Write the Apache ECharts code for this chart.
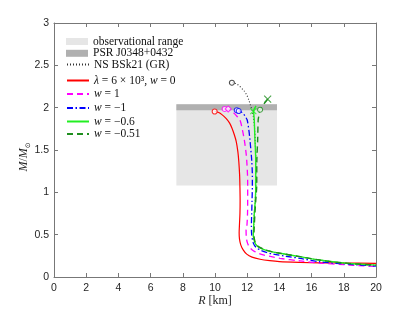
<!DOCTYPE html>
<html><head><meta charset="utf-8">
<script src="https://cdn.jsdelivr.net/npm/echarts@6/dist/echarts.min.js"></script>
<style>html,body{margin:0;padding:0;background:#fff}#c{width:415px;height:312px}</style>
</head><body><div id="c"></div>
<script>
// ---- axis ticks ----
const xTicks = [0, 2, 4, 6, 8, 10, 12, 14, 16, 18, 20];
const yTicks = [0, 0.5, 1, 1.5, 2, 2.5, 3];

// ---- shaded constraints ----
const obsRangeR = [7.6, 13.85];
const obsRangeM = [1.08, 2.04];
const psrR = [7.6, 13.85];
const psrM = [1.97, 2.04];

// ---- NS BSk21 (GR) ----
const nsR = [11.05, 11.3, 11.55, 11.8, 11.97, 12.1, 12.2, 12.3, 12.38, 12.44, 12.5, 12.53, 12.53, 12.5, 12.44, 12.4, 12.38, 12.45, 12.6, 13.0, 13.5, 14.04, 15.28, 16.5, 18, 20];
const nsM = [2.295, 2.285, 2.25, 2.2, 2.15, 2.09, 2.03, 1.97, 1.9, 1.8, 1.6, 1.38, 1.07, 0.9, 0.75, 0.6, 0.5, 0.42, 0.37, 0.327, 0.3, 0.28, 0.24, 0.2, 0.165, 0.14];
const nsMarkR = [11.05];
const nsMarkM = [2.295];

// ---- lambda = 6e3, w = 0 ----
const redR = [9.98, 10.2, 10.45, 10.7, 10.9, 11.05, 11.2, 11.32, 11.42, 11.48, 11.53, 11.55, 11.56, 11.55, 11.52, 11.5, 11.52, 11.6, 11.75, 11.97, 12.3, 12.8, 13.4, 14.0, 15.3, 16.5, 18, 20];
const redM = [1.955, 1.945, 1.915, 1.87, 1.82, 1.76, 1.68, 1.6, 1.48, 1.36, 1.2, 1.05, 0.9, 0.75, 0.62, 0.52, 0.45, 0.38, 0.32, 0.27, 0.235, 0.21, 0.193, 0.182, 0.173, 0.168, 0.165, 0.162];
const redMarkR = [9.98];
const redMarkM = [1.955];

// ---- w = 1 ----
const magR = [10.6, 10.9, 11.15, 11.4, 11.55, 11.7, 11.82, 11.92, 11.97, 12.02, 12.03, 12.03, 12.02, 11.98, 11.93, 11.95, 12.02, 12.15, 12.38, 12.7, 13.0, 13.5, 14.04, 15.28, 16.5, 18, 20];
const magM = [1.985, 1.975, 1.94, 1.89, 1.854, 1.74, 1.62, 1.48, 1.38, 1.2, 1.07, 0.9, 0.75, 0.6, 0.55, 0.46, 0.4, 0.35, 0.31, 0.28, 0.26, 0.24, 0.22, 0.19, 0.165, 0.145, 0.125];
const magCircR = [10.6];
const magCircM = [1.985];
const magDiaR = [10.82];
const magDiaM = [1.985];

// ---- w = -1 ----
const bluR = [11.35, 11.55, 11.75, 11.9, 12.0, 12.1, 12.17, 12.25, 12.28, 12.32, 12.32, 12.3, 12.28, 12.26, 12.28, 12.38, 12.55, 12.8, 13.2, 13.62, 14.4, 15.28, 16.5, 18, 20];
const bluM = [1.97, 1.96, 1.93, 1.89, 1.854, 1.74, 1.62, 1.45, 1.38, 1.2, 1.07, 0.9, 0.75, 0.6, 0.5, 0.4, 0.35, 0.32, 0.29, 0.27, 0.245, 0.22, 0.18, 0.155, 0.13];
const bluMarkR = [11.35, 11.47];
const bluMarkM = [1.97, 1.96];

// ---- w = -0.6 ----
const grnR = [12.55, 12.4, 12.42, 12.44, 12.48, 12.53, 12.53, 12.5, 12.44, 12.4, 12.38, 12.45, 12.6, 13.0, 13.5, 14.04, 15.28, 16.5, 18, 20];
const grnM = [2.02, 1.96, 1.9, 1.854, 1.62, 1.38, 1.07, 0.9, 0.75, 0.6, 0.5, 0.42, 0.37, 0.327, 0.3, 0.28, 0.24, 0.2, 0.165, 0.14];
const grnMarkR = [12.38];
const grnMarkM = [1.96];

// ---- w = -0.51 ----
const dgrR = [13.27, 12.8, 12.72, 12.68, 12.65, 12.6, 12.59, 12.53, 12.48, 12.44, 12.42, 12.48, 12.62, 13.0, 13.5, 14.04, 15.28, 16.5, 18, 20];
const dgrM = [2.10, 1.976, 1.9, 1.854, 1.62, 1.38, 1.07, 0.9, 0.75, 0.6, 0.5, 0.42, 0.37, 0.33, 0.3, 0.28, 0.24, 0.2, 0.165, 0.14];
const dgrCircR = [12.8];
const dgrCircM = [1.976];
const dgrCrossR = [13.27];
const dgrCrossM = [2.10];

const names = ['observational range', 'PSR J0348+0432', 'NS BSk21 (GR)', 'λ = 6 × 10³, w = 0', 'w = 1', 'w = −1', 'w = −0.6', 'w = −0.51'];
const richNames = {
  'observational range': 'observational range',
  'PSR J0348+0432': 'PSR J0348+0432',
  'NS BSk21 (GR)': 'NS BSk21 (GR)',
  'λ = 6 × 10³, w = 0': '{i|λ} = 6 × 10³, {i|w} = 0',
  'w = 1': '{i|w} = 1',
  'w = −1': '{i|w} = −1',
  'w = −0.6': '{i|w} = −0.6',
  'w = −0.51': '{i|w} = −0.51'
};
const rowCenters = [41.5, 53.3, 64.5, 80.5, 94, 108, 121.5, 134];

const zip = (a, b) => a.map((v, i) => [v, b[i]]);
const serif = 'Liberation Serif';
const crossPath = 'path://M0,0L10,10M10,0L0,10';

const chart = echarts.init(document.getElementById('c'), null, {renderer: 'canvas'});

const axisLineStyle = {color: '#777', width: 1};
const mkAxis = (pos, show, ticks, extra) => Object.assign({
  type: 'value', position: pos,
  min: ticks[0], max: ticks[ticks.length - 1], interval: ticks[1] - ticks[0],
  axisLine: {show: true, onZero: false, lineStyle: axisLineStyle},
  axisTick: {show: true, inside: true, length: 4, lineStyle: axisLineStyle},
  axisLabel: {show: show, color: '#262626', fontFamily: 'Liberation Sans', fontSize: 10.5},
  splitLine: {show: false},
  nameMoveOverlap: false
}, extra);

const lineSeries = (name, R, M, color, type, width) => ({
  type: 'line', name: name, data: zip(R, M), symbol: 'none', smooth: 0.3,
  xAxisIndex: 0, yAxisIndex: 0,
  lineStyle: {color: color, width: width, type: type}, itemStyle: {color: color},
  animation: false
});
const markSeries = (R, M, color, symbol, size) => ({
  type: 'scatter', name: '_m' + Math.random(), data: zip(R, M), symbol: symbol, symbolSize: size,
  itemStyle: {color: symbol === crossPath ? 'rgba(0,0,0,0)' : '#fff', borderColor: color, borderWidth: 1.1},
  animation: false, z: 3
});

const legends = names.map((n, i) => {
  const lg = {
    left: 66, top: rowCenters[i] - 6, padding: 0,
    itemWidth: 22, itemHeight: i < 2 ? 7 : 12, itemGap: 0,
    data: [i < 2 ? {name: n, icon: 'rect'} : {name: n}],
    formatter: nm => richNames[nm],
    textStyle: {fontFamily: serif, fontSize: 11.5, color: '#111', lineHeight: 12,
      rich: {i: {fontStyle: 'italic', fontFamily: serif, fontSize: 11.5, lineHeight: 12}}},
    selectedMode: false
  };
  if (i >= 2) lg.itemStyle = {opacity: 0};
  return lg;
});

chart.setOption({
  animation: false,
  backgroundColor: '#fff',
  grid: {left: 54, top: 23, width: 322, height: 254, containLabel: false, outerBoundsMode: 'none'},
  legend: legends,
  xAxis: [
    mkAxis('bottom', true, xTicks, {
      name: '{i|R} [km]', nameLocation: 'middle', nameGap: 18,
      axisLabel: {show: true, color: '#262626', fontFamily: 'Liberation Sans', fontSize: 10.5, margin: 6},
      nameTextStyle: {fontFamily: serif, fontSize: 12, color: '#262626',
        rich: {i: {fontStyle: 'italic', fontFamily: serif, fontSize: 12}}}
    }),
    mkAxis('top', false, xTicks, {})
  ],
  yAxis: [
    mkAxis('left', true, yTicks, {
      name: '{i|M}/{i|M}{s|⊙}', nameLocation: 'middle', nameGap: 22,
      axisLabel: {show: true, color: '#262626', fontFamily: 'Liberation Sans', fontSize: 10.5, margin: 5},
      nameTextStyle: {fontFamily: serif, fontSize: 12, color: '#262626', padding: [0, 14, 0, 0],
        rich: {i: {fontStyle: 'italic', fontFamily: serif, fontSize: 12, lineHeight: 16, verticalAlign: 'middle'},
               s: {fontFamily: 'DejaVu Sans', fontSize: 7, lineHeight: 16, verticalAlign: 'bottom'}}}
    }),
    mkAxis('right', false, yTicks, {})
  ],
  series: [
    {type: 'line', name: names[0], data: [], itemStyle: {color: '#e6e6e6'}, lineStyle: {color: '#e6e6e6'},
     markArea: {silent: true, itemStyle: {color: '#e6e6e6'},
       data: [[{coord: [obsRangeR[0], obsRangeM[0]]}, {coord: [obsRangeR[1], obsRangeM[1]]}]]}, z: 1},
    {type: 'line', name: names[1], data: [], itemStyle: {color: '#b0b0b0'}, lineStyle: {color: '#b0b0b0'},
     markArea: {silent: true, itemStyle: {color: '#b0b0b0'},
       data: [[{coord: [psrR[0], psrM[0]]}, {coord: [psrR[1], psrM[1]]}]]}, z: 1},
    lineSeries(names[2], nsR, nsM, '#333', [1, 2], 1.1),
    lineSeries(names[3], redR, redM, '#ff0000', 'solid', 1.2),
    lineSeries(names[4], magR, magM, '#ff00ff', [6, 4], 1.3),
    lineSeries(names[5], bluR, bluM, '#0000ff', [6, 2.5, 1.5, 2.5], 1.3),
    lineSeries(names[6], grnR, grnM, '#22ee22', 'solid', 1.4),
    lineSeries(names[7], dgrR, dgrM, '#1f8f1f', [6, 4], 1.4),
    markSeries(nsMarkR, nsMarkM, '#222', 'circle', 5),
    markSeries(redMarkR, redMarkM, '#ff0000', 'circle', 5),
    markSeries(magCircR, magCircM, '#ff00ff', 'circle', 5),
    markSeries(magDiaR, magDiaM, '#ff00ff', 'diamond', 6),
    markSeries(bluMarkR, bluMarkM, '#0000ff', 'circle', 5),
    markSeries(grnMarkR, grnMarkM, '#22ee22', crossPath, 6),
    markSeries(dgrCircR, dgrCircM, '#1f8f1f', 'circle', 5),
    markSeries(dgrCrossR, dgrCrossM, '#1f8f1f', crossPath, 7)
  ]
});
</script>
</body></html>
